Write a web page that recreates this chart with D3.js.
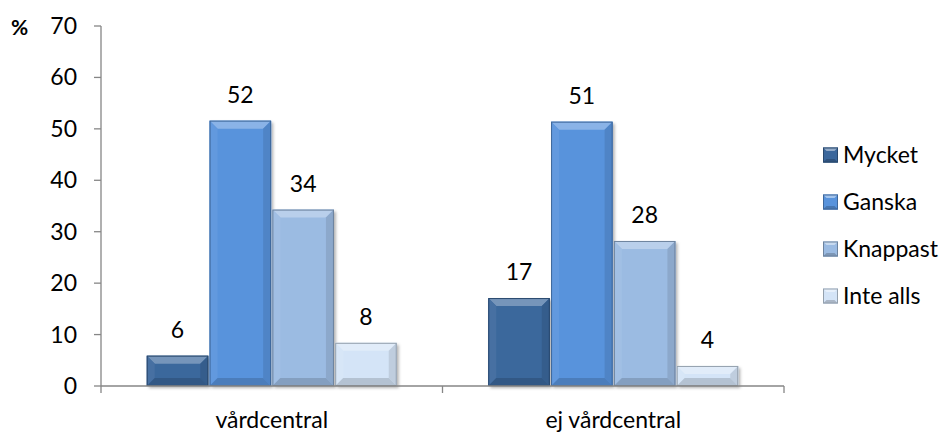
<!DOCTYPE html>
<html><head><meta charset="utf-8">
<script src="https://cdn.jsdelivr.net/npm/d3@7"></script>
<style>
body{margin:0;background:#fff;}
svg{display:block;font-family:Lato,"Open Sans",sans-serif;}
</style></head>
<body><svg id="c" width="949" height="437"></svg>
<script>
const categories = ["vårdcentral", "ej vårdcentral"];
const seriesNames = ["Mycket", "Ganska", "Knappast", "Inte alls"];
const vardcentral = [5.9, 51.6, 34.3, 8.4];
const ejVardcentral = [17.1, 51.4, 28.2, 3.9];
const yTicks = [0, 10, 20, 30, 40, 50, 60, 70];
const colors = ["#3b679c", "#5893dc", "#9bbbe2", "#d4e4f7"];

const values = [vardcentral, ejVardcentral];
const svg = d3.select("#c");
const plotLeft = 101, plotRight = 784, plotTop = 26, plotBottom = 386;
const fs = 23;

const y = d3.scaleLinear().domain([0, 70]).range([plotBottom, plotTop]);
const x0 = d3.scaleBand().domain(categories).range([plotLeft, plotRight]);
const bw = x0.bandwidth();
const x1 = d3.scaleBand().domain(seriesNames).range([bw * 0.134, bw * 0.866]).paddingInner(0.02);
const color = d3.scaleOrdinal().domain(seriesNames).range(colors);

const defs = svg.append("defs");
const f = defs.append("filter").attr("id", "sh").attr("x", "-20%").attr("y", "-20%").attr("width", "150%").attr("height", "150%");
f.append("feDropShadow").attr("dx", 2).attr("dy", 2).attr("stdDeviation", 1.8).attr("flood-color", "#000").attr("flood-opacity", 0.3);

// axes
const axisColor = "#868686";
svg.append("line").attr("x1", plotLeft).attr("x2", plotLeft).attr("y1", plotTop).attr("y2", plotBottom).attr("stroke", axisColor).attr("stroke-width", 1.3);
svg.append("g").selectAll("line").data(yTicks).join("line")
  .attr("x1", plotLeft - 7).attr("x2", plotLeft).attr("y1", d => y(d)).attr("y2", d => y(d))
  .attr("stroke", axisColor).attr("stroke-width", 1.3);
svg.append("g").selectAll("text").data(yTicks).join("text")
  .attr("x", 77).attr("y", d => y(d)).attr("dy", "0.35em").attr("text-anchor", "end")
  .attr("font-size", fs).attr("fill", "#000").text(d => d);
svg.append("text").attr("x", 11).attr("y", y(70) + 2).attr("dy", "0.35em").attr("font-size", 21).attr("font-weight", "bold").text("%");

// bars
function shade(c, k) { return k > 0 ? d3.interpolateRgb(c, "#fff")(k) : d3.interpolateRgb(c, "#000")(-k); }
const groups = svg.append("g").selectAll("g").data(categories).join("g")
  .attr("transform", d => `translate(${x0(d)},0)`);
groups.each(function(cat, gi) {
  const g = d3.select(this);
  seriesNames.forEach((s, si) => {
    const v = values[gi][si];
    const bx = x1(s), w = x1.bandwidth(), ty = y(v), h = y(0) - y(v);
    const c = color(s);
    const b = Math.min(8, h / 2, w / 2);
    const bar = g.append("g");
    bar.append("rect").attr("x", bx).attr("y", ty).attr("width", w).attr("height", h).attr("fill", c).attr("filter", "url(#sh)");
    const X0 = bx, X1 = bx + w, Y0 = ty, Y1 = ty + h;
    const poly = (pts, fill) => bar.append("polygon").attr("points", pts.map(p => p.join(",")).join(" ")).attr("fill", fill);
    poly([[X0, Y0], [X1, Y0], [X1 - b, Y0 + b], [X0 + b, Y0 + b]], shade(c, 0.3));
    poly([[X0, Y0], [X0 + b, Y0 + b], [X0 + b, Y1 - b], [X0, Y1]], shade(c, 0.06));
    poly([[X1, Y0], [X1, Y1], [X1 - b, Y1 - b], [X1 - b, Y0 + b]], shade(c, -0.1));
    poly([[X0, Y1], [X0 + b, Y1 - b], [X1 - b, Y1 - b], [X1, Y1]], shade(c, -0.15));
    bar.append("rect").attr("x", bx + 0.5).attr("y", ty + 0.5).attr("width", w - 1).attr("height", h - 1)
      .attr("fill", "none").attr("stroke", shade(c, -0.3)).attr("stroke-width", 1);
    g.append("text").attr("x", bx + w / 2).attr("y", ty - 18).attr("text-anchor", "middle")
      .attr("font-size", fs).attr("fill", "#000").text(d3.format(".0f")(v));
  });
});

// x axis
svg.append("line").attr("x1", plotLeft).attr("x2", plotRight).attr("y1", plotBottom).attr("y2", plotBottom).attr("stroke", axisColor).attr("stroke-width", 1.3);
const xt = [plotLeft, ...categories.map(c => x0(c) + bw)];
svg.append("g").selectAll("line").data(xt).join("line")
  .attr("x1", d => d).attr("x2", d => d).attr("y1", plotBottom).attr("y2", plotBottom + 7)
  .attr("stroke", axisColor).attr("stroke-width", 1.3);
svg.append("g").selectAll("text").data(categories).join("text")
  .attr("x", d => x0(d) + bw / 2).attr("y", 420).attr("dy", "0.35em").attr("text-anchor", "middle")
  .attr("font-size", fs).attr("fill", "#000").text(d => d);

// legend
const ly = d3.scalePoint().domain(seriesNames).range([155, 296]);
const lg = svg.append("g").selectAll("g").data(seriesNames).join("g")
  .attr("transform", d => `translate(823,${ly(d)})`);
lg.each(function(s) {
  const g = d3.select(this), c = color(s), sz = 15, b = 3.5;
  g.append("rect").attr("x", 0).attr("y", -sz / 2).attr("width", sz).attr("height", sz).attr("fill", c);
  g.append("polygon").attr("points", `0,${-sz/2} ${sz},${-sz/2} ${sz-b},${-sz/2+b} ${b},${-sz/2+b}`).attr("fill", shade(c, 0.45));
  g.append("polygon").attr("points", `0,${sz/2} ${b},${sz/2-b} ${sz-b},${sz/2-b} ${sz},${sz/2}`).attr("fill", shade(c, -0.2));
  g.append("rect").attr("x", 0.5).attr("y", -sz / 2 + 0.5).attr("width", sz - 1).attr("height", sz - 1).attr("fill", "none").attr("stroke", shade(c, -0.3));
  g.append("text").attr("x", 20).attr("y", 0).attr("dy", "0.35em").attr("font-size", fs).attr("fill", "#000").text(s);
});
</script></body></html>
